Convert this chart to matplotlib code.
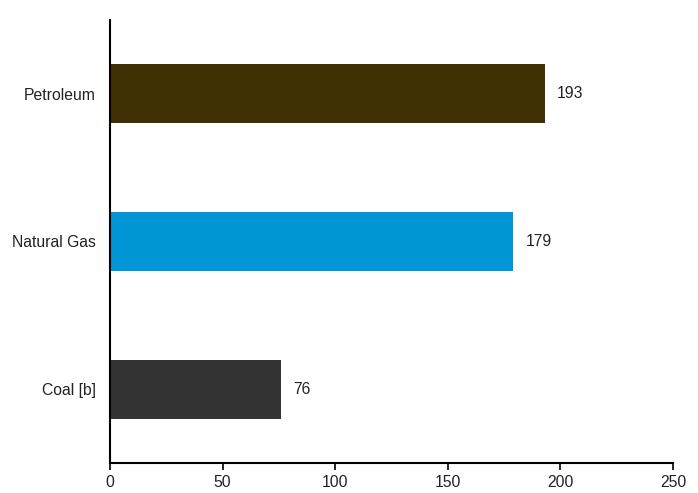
import matplotlib.pyplot as plt

plt.rcParams['font.family'] = ['Liberation Sans', 'DejaVu Sans']

categories = ['Coal [b]', 'Natural Gas', 'Petroleum']
values = [76, 179, 193]
colors = ['#333333', '#0096D6', '#3F3104']
x_ticks = [0, 50, 100, 150, 200, 250]

fig = plt.figure(figsize=(6.98, 4.93), dpi=100)
ax = fig.add_axes([0.1576, 0.0609, 0.8066, 0.8986])

ypos = range(len(categories))
ax.barh(ypos, values, height=0.4, color=colors)
for y, v in zip(ypos, values):
    ax.annotate(str(v), (v, y), xytext=(9, 0), textcoords='offset points',
                va='center', ha='left', fontsize=11.3, color='#222222')

ax.set_yticks(list(ypos))
ax.set_yticklabels(categories, fontsize=11.3, color='#222222')
ax.set_xticks(x_ticks)
ax.set_xticklabels([str(t) for t in x_ticks], fontsize=11.3, color='#222222')
ax.set_xlim(0, 250)
ax.set_ylim(-0.5, 2.5)

ax.spines['top'].set_visible(False)
ax.spines['right'].set_visible(False)
ax.spines['left'].set_linewidth(1.5)
ax.spines['bottom'].set_linewidth(1.5)
ax.tick_params(axis='y', length=0, pad=10)
ax.tick_params(axis='x', length=5, width=1.2, pad=4)

fig.savefig('out.png', dpi=100)
